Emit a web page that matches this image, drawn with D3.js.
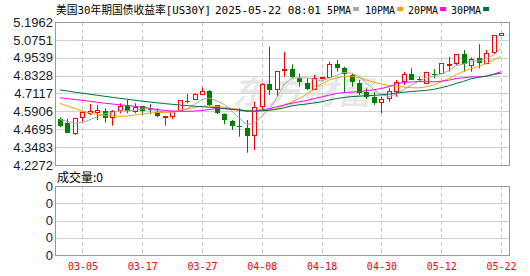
<!DOCTYPE html>
<html lang="zh">
<head>
<meta charset="utf-8">
<title>美国30年期国债收益率</title>
<script src="https://cdn.jsdelivr.net/npm/d3@7"></script>
<style>
  body { margin: 0; background: #fff; }
  svg { display: block; }
</style>
</head>
<body></body>
<script>

//**************************************************************//
// Data

var dates = ["02-28","03-03","03-04","03-05","03-06","03-07","03-10","03-11","03-12","03-13",
             "03-14","03-17","03-18","03-19","03-20","03-21","03-24","03-25","03-26","03-27",
             "03-28","03-31","04-01","04-02","04-03","04-04","04-07","04-08","04-09","04-10",
             "04-11","04-14","04-15","04-16","04-17","04-18","04-21","04-22","04-23","04-24",
             "04-25","04-28","04-29","04-30","05-01","05-02","05-05","05-06","05-07","05-08",
             "05-09","05-12","05-13","05-14","05-15","05-16","05-19","05-20","05-21","05-22"];

var openP  = [4.5368,4.5138,4.4460,4.5504,4.5842,4.5883,4.5951,4.5544,4.5998,4.6270,
              4.5951,4.6270,4.6066,4.5842,4.5544,4.5592,4.5998,4.6629,4.6724,4.7130,
              4.7306,4.6337,4.5727,4.5253,4.4934,4.4758,4.4257,4.6270,4.7781,4.7469,
              4.8709,4.8757,4.8147,4.7808,4.7442,4.8187,4.8255,4.9116,4.8824,4.8370,
              4.7808,4.7238,4.6900,4.6561,4.6832,4.7306,4.7916,4.8418,4.8120,4.7808,
              4.8438,4.8486,4.9075,4.9163,4.9773,4.9048,4.9502,4.9163,4.9909,5.1034];
var highP  = [4.5504,4.5409,4.5477,4.5931,4.6405,4.6337,4.6114,4.5998,4.6452,4.6676,
              4.6452,4.6270,4.6405,4.6114,4.5612,4.5951,4.6676,4.7083,4.7130,4.7537,
              4.7354,4.6337,4.5775,4.5321,4.6114,4.5321,4.6561,4.7808,5.0288,4.8662,
              4.9949,4.9095,4.8486,4.8147,4.8370,4.8214,4.9272,4.9387,4.8933,4.8486,
              4.8032,4.7469,4.7238,4.6900,4.7469,4.8032,4.8594,4.8824,4.8255,4.8594,
              4.8777,4.9163,4.9610,4.9773,5.0064,4.9570,5.0451,5.0064,5.1081,5.1196];
var lowP   = [4.4846,4.4419,4.4304,4.5205,4.5659,4.5321,4.5138,4.4934,4.5775,4.5775,
              4.5775,4.5659,4.5727,4.5504,4.4934,4.5368,4.5951,4.6452,4.6676,4.7015,
              4.6290,4.5727,4.5029,4.4643,4.4189,4.3105,4.3288,4.5998,4.7015,4.6900,
              4.8255,4.8147,4.7577,4.7354,4.7354,4.8187,4.8255,4.8594,4.7171,4.7577,
              4.7015,4.6744,4.6337,4.5775,4.6561,4.6900,4.7693,4.8032,4.7916,4.7808,
              4.8147,4.8486,4.8594,4.9048,4.8594,4.8594,4.8824,4.9095,4.9773,5.1034];
var closeP = [4.4914,4.4487,4.5477,4.5842,4.5951,4.5998,4.5504,4.5931,4.6290,4.5951,
              4.6222,4.5951,4.6025,4.5544,4.5612,4.5951,4.6676,4.6588,4.7083,4.7306,
              4.6337,4.5775,4.5321,4.4914,4.4893,4.4189,4.6181,4.7740,4.7401,4.8662,
              4.8777,4.8187,4.7849,4.7401,4.8187,4.8214,4.9116,4.8824,4.8418,4.7896,
              4.7130,4.6900,4.6521,4.6744,4.7286,4.7916,4.8418,4.8032,4.8079,4.8553,
              4.8397,4.9163,4.9116,4.9773,4.9095,4.9434,4.9163,4.9841,5.1081,5.1196];

var ma5  = [4.5354,4.5219,4.5117,4.5151,4.5334,4.5551,4.5754,4.5842,4.5937,4.5937,
            4.5978,4.6066,4.6086,4.5937,4.5869,4.5815,4.5964,4.6073,4.6385,4.6723,
            4.6798,4.6615,4.6364,4.5930,4.5449,4.5016,4.5097,4.5585,4.6080,4.6832,
            4.7754,4.8153,4.8174,4.8174,4.8079,4.7970,4.8153,4.8350,4.8553,4.8492,
            4.8275,4.7835,4.7374,4.7035,4.6913,4.7076,4.7374,4.7679,4.7943,4.8201,
            4.8296,4.8445,4.8662,4.9001,4.9109,4.9319,4.9319,4.9461,4.9726,5.0146];
var ma10 = [4.6439,4.6269,4.6100,4.5930,4.5795,4.5693,4.5626,4.5592,4.5571,4.5592,
            4.5659,4.5727,4.5795,4.5829,4.5842,4.5876,4.5978,4.6066,4.6161,4.6269,
            4.6269,4.6249,4.6181,4.6107,4.6046,4.5930,4.5897,4.5964,4.5998,4.6100,
            4.6303,4.6541,4.6778,4.7062,4.7401,4.7760,4.8031,4.8167,4.8282,4.8282,
            4.8201,4.8031,4.7876,4.7760,4.7659,4.7604,4.7557,4.7510,4.7503,4.7571,
            4.7693,4.7896,4.8133,4.8404,4.8621,4.8811,4.8946,4.9150,4.9387,4.9624];
var ma20 = [4.6825,4.6771,4.6710,4.6656,4.6588,4.6520,4.6459,4.6405,4.6351,4.6303,
            4.6249,4.6188,4.6120,4.6032,4.5964,4.5930,4.5910,4.5910,4.5930,4.5964,
            4.6036,4.6100,4.6093,4.6046,4.5995,4.5903,4.5937,4.6025,4.6083,4.6219,
            4.6344,4.6459,4.6547,4.6642,4.6771,4.6886,4.7005,4.7117,4.7184,4.7211,
            4.7252,4.7310,4.7371,4.7462,4.7577,4.7767,4.7879,4.7896,4.7926,4.7923,
            4.7903,4.7950,4.8018,4.8133,4.8180,4.8241,4.8241,4.8296,4.8424,4.8594];
var ma30 = [4.7354,4.7286,4.7205,4.7137,4.7069,4.6995,4.6927,4.6859,4.6791,4.6730,
            4.6662,4.6595,4.6541,4.6486,4.6432,4.6385,4.6337,4.6297,4.6256,4.6222,
            4.6188,4.6147,4.6100,4.6046,4.5998,4.5951,4.5910,4.5944,4.5978,4.6039,
            4.6151,4.6276,4.6351,4.6407,4.6480,4.6554,4.6676,4.6771,4.6845,4.6906,
            4.6937,4.6969,4.6988,4.7028,4.7081,4.7147,4.7205,4.7255,4.7286,4.7329,
            4.7396,4.7510,4.7638,4.7798,4.7939,4.8115,4.8212,4.8284,4.8404,4.8492];

var yTicks    = [5.1962,5.0751,4.9539,4.8328,4.7117,4.5906,4.4695,4.3483,4.2272];
var tickDates = ["03-05","03-17","03-27","04-08","04-18","04-30","05-12","05-22"];
var volLabels = ["0","0","0","0","0"];

var maNames  = ["5PMA","10PMA","20PMA","30PMA"];
var maColors = ["#a8a8a8","#f5a300","#ff00ff","#00703c"];

//**************************************************************//
// Canvas

var width = 530, height = 276;
var plotL = 55, plotR = 509,
    mainT = 22, mainB = 165,
    volT = 186, volB = 255;

var svg = d3.select("body").append("svg")
    .attr("width", width)
    .attr("height", height);

var x = d3.scaleLinear().domain([0, dates.length - 1]).range([60, 501]);
var y = d3.scaleLinear().domain([yTicks[yTicks.length - 1], yTicks[0]]).range([mainB, mainT]);
var yVol = d3.scaleLinear().domain([0, volLabels.length - 1]).range([volB, volT]);

var px = function(v){ return Math.round(v) + 0.5; };

// watermark
svg.append("text")
    .attr("x", 232).attr("y", 104)
    .attr("textLength", 140).attr("lengthAdjust", "spacingAndGlyphs")
    .attr("font-family", "Noto Sans CJK SC").attr("font-weight", "bold")
    .attr("font-style", "italic").attr("font-size", 33)
    .attr("fill", "#000").attr("fill-opacity", 0.09)
    .text("东方财富");

//**************************************************************//
// Grid

var grid = svg.append("g");

grid.selectAll(".hgrid").data(yTicks.slice(1, -1)).enter().append("line")
    .attr("x1", plotL).attr("x2", plotR)
    .attr("y1", function(d){ return px(y(d)); })
    .attr("y2", function(d){ return px(y(d)); })
    .attr("stroke", "#d0d0d0");

grid.selectAll(".vgrid").data(d3.range(1, volLabels.length - 1)).enter().append("line")
    .attr("x1", plotL).attr("x2", plotR)
    .attr("y1", function(d){ return px(yVol(d)); })
    .attr("y2", function(d){ return px(yVol(d)); })
    .attr("stroke", "#d0d0d0");

var tickIdx = tickDates.map(function(d){ return dates.indexOf(d); });

[[mainT, mainB], [volT, volB]].forEach(function(r){
    grid.selectAll(null).data(tickIdx).enter().append("line")
        .attr("x1", function(i){ return px(x(i)); })
        .attr("x2", function(i){ return px(x(i)); })
        .attr("y1", r[0]).attr("y2", r[1])
        .attr("stroke", "#c8c8c8")
        .attr("stroke-dasharray", "4,3");
});

[[mainT, mainB], [volT, volB]].forEach(function(r){
    grid.append("rect")
        .attr("x", plotL + 0.5).attr("y", r[0] + 0.5)
        .attr("width", plotR - plotL).attr("height", r[1] - r[0])
        .attr("fill", "none").attr("stroke", "#999");
});

//**************************************************************//
// Candles

var candles = svg.append("g").selectAll("g").data(dates).enter().append("g");

candles.append("line")
    .attr("x1", function(d, i){ return px(x(i)); })
    .attr("x2", function(d, i){ return px(x(i)); })
    .attr("y1", function(d, i){ return y(highP[i]); })
    .attr("y2", function(d, i){ return y(lowP[i]); })
    .attr("stroke", function(d, i){ return closeP[i] >= openP[i] ? "#ff0000" : "#008000"; });

candles.append("rect")
    .attr("x", function(d, i){
        var cx = px(x(i));
        return closeP[i] >= openP[i] ? cx - 2 : cx - 2.5;
    })
    .attr("y", function(d, i){
        var top = Math.round(y(Math.max(openP[i], closeP[i])));
        return closeP[i] >= openP[i] ? top + 0.5 : top;
    })
    .attr("width", function(d, i){ return closeP[i] >= openP[i] ? 4 : 5; })
    .attr("height", function(d, i){
        var h = Math.round(y(Math.min(openP[i], closeP[i])) - y(Math.max(openP[i], closeP[i])));
        return Math.max(h, 1);
    })
    .attr("fill", function(d, i){ return closeP[i] >= openP[i] ? "#fff" : "#008000"; })
    .attr("stroke", function(d, i){ return closeP[i] >= openP[i] ? "#ff0000" : "none"; });

//**************************************************************//
// Moving averages

var line = d3.line()
    .x(function(d, i){ return x(i); })
    .y(function(d){ return y(d); });

[ma5, ma10, ma20, ma30].forEach(function(series, k){
    svg.append("path")
        .attr("d", line(series))
        .attr("fill", "none")
        .attr("stroke", maColors[k])
        .attr("stroke-width", 1);
});

//**************************************************************//
// Axes

var yAxis = svg.append("g")
    .attr("transform", "translate(" + (plotL - 2) + ",0)")
    .call(d3.axisLeft(y).tickValues(yTicks).tickFormat(d3.format(".4f")).tickSize(0).tickPadding(0));
yAxis.select(".domain").remove();
yAxis.selectAll("text")
    .attr("font-family", "Liberation Sans").attr("font-size", 13)
    .attr("fill", "#1a1a2a");

var vAxis = svg.append("g")
    .attr("transform", "translate(" + (plotL - 2) + ",0)")
    .call(d3.axisLeft(yVol).tickValues(d3.range(volLabels.length))
        .tickFormat(function(d){ return volLabels[d]; }).tickSize(0).tickPadding(0));
vAxis.select(".domain").remove();
vAxis.selectAll("text")
    .attr("font-family", "Liberation Sans").attr("font-size", 13)
    .attr("fill", "#1a1a2a");

var xAxis = svg.append("g")
    .attr("transform", "translate(0," + volB + ")")
    .call(d3.axisBottom(x).tickValues(tickIdx)
        .tickFormat(function(i){ return dates[i]; }).tickSize(0).tickPadding(8));
xAxis.select(".domain").remove();
xAxis.selectAll("text")
    .attr("font-family", "DejaVu Sans Mono").attr("font-size", 10)
    .attr("fill", "#ff0000");

//**************************************************************//
// Title and legend

var title = svg.append("g")
    .attr("font-family", "DejaVu Sans Mono, Noto Sans CJK SC")
    .attr("fill", "#000");

title.append("text")
    .attr("x", 56).attr("y", 14)
    .attr("font-size", 11)
    .attr("textLength", 155).attr("lengthAdjust", "spacingAndGlyphs")
    .text("美国30年期国债收益率[US30Y]");

title.append("text")
    .attr("x", 215).attr("y", 14)
    .attr("font-size", 11)
    .text("2025-05-22 08:01");

var legendX = [327, 365, 408, 451];

maNames.forEach(function(name, k){
    var t = title.append("text")
        .attr("x", legendX[k]).attr("y", 14)
        .attr("font-size", 10)
        .text(name);
    var w = t.node().getComputedTextLength();
    title.append("rect")
        .attr("x", legendX[k] + w + 2).attr("y", 7)
        .attr("width", 6).attr("height", 4)
        .attr("fill", maColors[k]);
});

svg.append("text")
    .attr("x", 57).attr("y", 182)
    .attr("font-family", "Noto Sans CJK SC")
    .attr("font-size", 12)
    .attr("fill", "#000")
    .text("成交量:0");

</script>
</html>
